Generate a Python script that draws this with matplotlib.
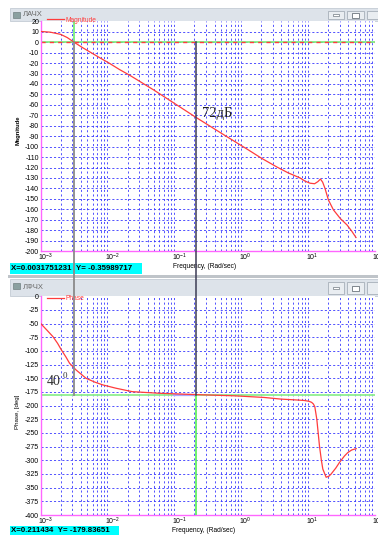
import matplotlib
matplotlib.use("Agg")
import matplotlib.pyplot as plt
import matplotlib.transforms as mtransforms
from matplotlib.lines import Line2D
from matplotlib.patches import Rectangle

plt.rcParams['font.family'] = ['Liberation Sans', 'DejaVu Sans']
plt.rcParams['axes.unicode_minus'] = False

# ---- данные ----
freq_mag = [0.001, 0.0014, 0.002, 0.0025, 0.00317, 0.0042, 0.0057, 0.0075,
            0.0106, 0.015, 0.022, 0.05, 0.1, 0.211, 0.5, 1.27, 2.0, 3.44,
            5.0, 7.6, 9.0, 10.7, 12.5, 14.0, 15.3, 16.5, 17.9, 20.1, 23.9,
            30.2, 38.2, 45.0, 52.0]
mag_db = [10.3, 9.6, 7.5, 4.5, 0, -5, -10, -14.5,
          -20, -26, -32, -46, -58.5, -72, -87, -103, -111, -119.6,
          -125, -130, -133, -135, -135.5, -133.5, -131, -134, -140, -151, -160.5,
          -168.7, -175, -181, -187]

freq_phase = [0.001, 0.00125, 0.00154, 0.0018, 0.00205, 0.0024, 0.00272, 0.0034,
              0.0041, 0.0048, 0.0065, 0.0085, 0.0133, 0.0235, 0.058, 0.211, 0.79,
              2.2, 3.9, 6.5, 8.7, 10.3, 11.3, 12.0, 12.6, 13.5, 14.8, 15.8, 16.6,
              18.6, 20.5, 22.1, 26.0, 29.4, 35.0, 39.3, 45.0, 52.4]
phase_deg = [-49.4, -62, -74, -86, -98, -111, -122.5, -134.7,
             -143, -150, -157, -162, -168, -174.4, -177.3, -179.8, -182,
             -185, -188, -189.5, -190.5, -192, -194, -197, -202, -225, -274, -300, -316,
             -331, -329, -325, -314, -304, -292, -285.7, -281, -278.6]

cursor_x1, cursor_y1 = 0.0031751231, -0.35989717
cursor_x2, cursor_y2 = 0.211434, -179.83651

mag_ticks = list(range(20, -201, -10))
phase_ticks = list(range(0, -401, -25))
decades = [1e-3, 1e-2, 1e-1, 1e0, 1e1, 1e2]
decade_labels = [r'$\mathregular{10^{-3}}$', r'$\mathregular{10^{-2}}$', r'$\mathregular{10^{-1}}$',
                 r'$\mathregular{10^{0}}$', r'$\mathregular{10^{1}}$', r'$\mathregular{10^{2}}$']

W, H = 378, 535
RED = '#ff3c3c'
GRID = '#3535ff'
PINK = '#ff66ff'
GREEN = '#77ee77'


def rect(x0, y0, x1, y1):
    """пиксели (отсчёт сверху) -> [left, bottom, width, height] в долях фигуры"""
    return [x0 / W, 1 - y1 / H, (x1 - x0) / W, (y1 - y0) / H]


fig = plt.figure(figsize=(W / 100, H / 100), dpi=100)
fig.patch.set_facecolor('white')

# ---- оформление окон ----
def window_bar(y0, y1, title):
    fig.add_artist(Rectangle((10 / W, 1 - y1 / H), (W - 10) / W, (y1 - y0) / H,
                             transform=fig.transFigure, facecolor='#dde3ea',
                             edgecolor='#c4ccd4', lw=0.6, zorder=0))
    fig.add_artist(Rectangle((13 / W, 1 - (y0 + 10) / H), 7 / W, 6 / H,
                             transform=fig.transFigure, facecolor='#8aa0a0',
                             edgecolor='#607070', lw=0.4))
    fig.text(23 / W, 1 - (y0 + y1) / 2 / H, title, fontsize=5.5, color='#6a6a6a',
             va='center', ha='left')
    for bx0, bx1 in [(328, 344), (347, 364), (367, 384)]:
        fig.add_artist(Rectangle((bx0 / W, 1 - (y1 - 2) / H), (bx1 - bx0) / W,
                                 (y1 - y0 - 5) / H, transform=fig.transFigure,
                                 facecolor='#e9edf1', edgecolor='#9aa4ae', lw=0.5))
    cy = (y0 + y1) / 2 + 0.5
    fig.add_artist(Rectangle((333 / W, 1 - (cy + 1) / H), 6 / W, 2 / H,
                             transform=fig.transFigure, facecolor='white',
                             edgecolor='#505a64', lw=0.4))
    fig.add_artist(Rectangle((352 / W, 1 - (cy + 2.5) / H), 7 / W, 5 / H,
                             transform=fig.transFigure, facecolor='white',
                             edgecolor='#505a64', lw=0.5))


window_bar(8, 21, 'ЛАЧХ')
fig.add_artist(Rectangle((8 / W, 1 - 278 / H), (W - 8) / W, 3 / H,
                         transform=fig.transFigure, facecolor='#bfc4c9',
                         edgecolor='none'))
window_bar(279, 296, 'ЛФЧХ')


def setup_axes(ax, ymin, ymax, yticks):
    ax.set_xscale('log')
    ax.set_xlim(1e-3, 1e2)
    ax.set_ylim(ymin, ymax)
    ax.set_xticks(decades)
    ax.set_xticklabels(decade_labels)
    ax.minorticks_off()
    ax.set_yticks(yticks)
    ax.set_yticklabels([str(v) for v in yticks])
    ax.tick_params(length=0, labelsize=5, pad=1)
    ax.tick_params(axis='x', pad=0.5)
    for s in ['top', 'right']:
        ax.spines[s].set_visible(False)
    for s in ['left', 'bottom']:
        ax.spines[s].set_color(PINK)
        ax.spines[s].set_linewidth(1.0)
    # сетка
    for y in yticks[1:-1]:
        ax.axhline(y, color=GRID, lw=0.6, ls=(0, (2.5, 2.5)), zorder=1)
    for d in decades[:-1]:
        for k in range(1, 10):
            f = d * k
            if f <= 1e-3:
                continue
            ax.axvline(f, color=GRID, lw=0.6, ls=(0, (2.5, 3)), zorder=1)
    shift = mtransforms.ScaledTranslation(-2.5 / 100, 0, fig.dpi_scale_trans)
    for lab in ax.get_xticklabels():
        lab.set_horizontalalignment('left')
        lab.set_transform(lab.get_transform() + shift)


# ---- ЛАЧХ ----
ax1 = fig.add_axes(rect(40.5, 21.3, 375, 251.1))
setup_axes(ax1, -200, 20, mag_ticks)
ax1.axhline(0, color=GREEN, lw=1.2, zorder=2)
ax1.axhline(0, color=RED, lw=1.0, ls=(0, (3, 3)), zorder=2)
ax1.plot([cursor_x1, cursor_x1], [0, 20], color=GREEN, lw=1.3, zorder=3)
ax1.plot(freq_mag, mag_db, color=RED, lw=0.9, zorder=4, label='Magnitude')
ax1.legend(loc='upper left', bbox_to_anchor=(0.018, 1.02), frameon=False,
           fontsize=4.8, labelcolor=RED, handlelength=2.6, handletextpad=0.2,
           borderpad=0, borderaxespad=0)
ax1.text(0.44, -68, '72дБ', family='Liberation Serif', fontsize=10.5,
         color='#222222', ha='center', va='center', zorder=5)

# ---- ЛФЧХ ----
ax2 = fig.add_axes(rect(40.5, 296.3, 375, 515))
setup_axes(ax2, -400, 0, phase_ticks)
ax2.axhline(-180, color='#8fef8f', lw=1.3, zorder=2)
ax2.plot([0.1, cursor_x2], [-180, -180], color='#a8a8ff', lw=1.6, zorder=3)
ax2.plot([cursor_x2, cursor_x2], [-180, -400], color='#55ee55', lw=1.2, zorder=3)
ax2.plot(freq_phase, phase_deg, color=RED, lw=0.9, zorder=4, label='Phase')
ax2.legend(loc='upper left', bbox_to_anchor=(0.018, 1.005), frameon=False,
           fontsize=4.8, labelcolor=RED, handlelength=2.6, handletextpad=0.2,
           borderpad=0, borderaxespad=0)
ax2.text(1.25e-3, -156, '40', family='Liberation Serif', fontsize=10,
         color='#333333', ha='left', va='center', zorder=5)
ax2.annotate('0', (1.25e-3, -156), xytext=(11, 4), textcoords='offset points',
             family='Liberation Serif', fontsize=6.5, color='#333333',
             ha='left', va='center', zorder=5)

# ---- курсоры через оба окна ----
inv = fig.transFigure.inverted()
for fx, col, lw in [(cursor_x1, '#8a8a8a', 1.3), (cursor_x2, '#3c3c55', 1.1)]:
    xa, ya = inv.transform(ax1.transData.transform((fx, 0)))
    xb, yb = inv.transform(ax2.transData.transform((fx, -180)))
    fig.add_artist(Line2D([xa, xa], [ya, yb], transform=fig.transFigure,
                          color=col, lw=lw, zorder=10))

# ---- подписи осей ----
fig.text(18 / W, 1 - 130 / H, 'Magnitude', rotation=90, fontsize=4.2,
         weight='bold', ha='center', va='center')
fig.text(17 / W, 1 - 412 / H, 'Phase, [deg]', rotation=90, fontsize=4.4,
         ha='center', va='center')
fig.text(205 / W, 1 - 266.5 / H, 'Frequency, (Rad/sec)', fontsize=4.8,
         ha='center', va='center')
fig.text(204 / W, 1 - 530 / H, 'Frequency, (Rad/sec)', fontsize=4.8,
         ha='center', va='center')

# ---- голубые плашки со значениями курсора ----
for (x0, y0, x1, y1), txt in [((10, 262.5, 142, 273.5),
                               f'X={cursor_x1:.10f}  Y= {cursor_y1:.8f}'),
                              ((10, 525.5, 119, 535.5),
                               f'X={cursor_x2:.6f}  Y= {cursor_y2:.5f}')]:
    fig.add_artist(Rectangle((x0 / W, 1 - y1 / H), (x1 - x0) / W, (y1 - y0) / H,
                             transform=fig.transFigure, facecolor='#00ffff',
                             edgecolor='none', zorder=1))
    fig.text((x0 + 1) / W, 1 - (y0 + y1) / 2 / H, txt, fontsize=5.7,
             weight='bold', ha='left', va='center', zorder=2)

fig.savefig('out.png', dpi=100)
